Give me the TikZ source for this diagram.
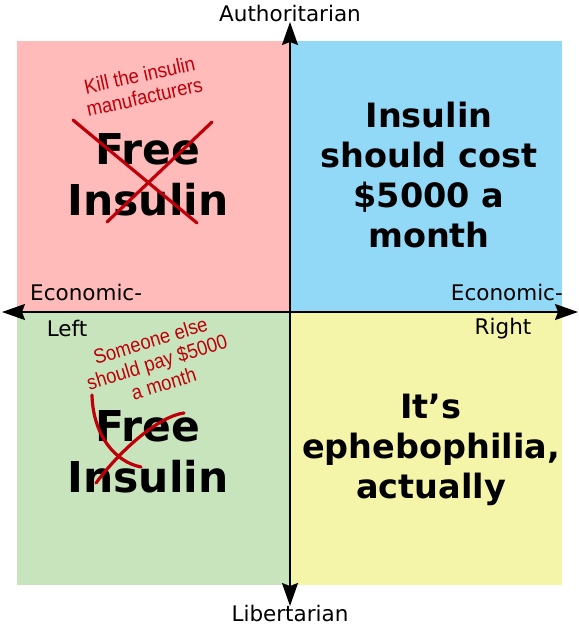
\documentclass[tikz,border=0pt]{standalone}
\usepackage{fontspec}
\setmainfont{DejaVu Sans}
\newfontfamily\annofont{Liberation Sans}
\usetikzlibrary{arrows.meta,positioning}
\definecolor{authleft}{RGB}{255,186,186}
\definecolor{authright}{RGB}{146,217,248}
\definecolor{libleft}{RGB}{200,228,188}
\definecolor{libright}{RGB}{245,245,169}
\definecolor{scribble}{RGB}{190,0,10}
\begin{document}
\begin{tikzpicture}[x=1pt,y=-1pt,>={Stealth[length=23pt,width=16pt,inset=3pt]},
    axis/.style={line width=1.6pt},
    axislabel/.style={inner sep=0pt,font=\fontsize{21.5}{25}\selectfont},
    bigtext/.style={align=center,font=\bfseries\fontsize{42.5}{51}\selectfont},
    midtext/.style={align=center,font=\bfseries\fontsize{33.5}{40}\selectfont},
    annotext/.style={align=center,inner sep=0pt,text=scribble,font=\annofont\fontsize{20.5}{22.5}\selectfont},
    cross/.style={draw=scribble,line width=3.2pt,line cap=round}]
    \useasboundingbox (0,0) rectangle (579,630);
    \fill[authleft] (17,41) rectangle (290,312);
    \fill[authright] (290,41) rectangle (562,312);
    \fill[libleft] (17,312) rectangle (290,585);
    \fill[libright] (290,312) rectangle (562,585);
    \coordinate (west) at (2,312);
    \coordinate (east) at (578,312);
    \coordinate (north) at (290,22);
    \coordinate (south) at (290,606);
    \draw[axis,<->] (west)--(east);
    \draw[axis,<->] (north)--(south);
    \node[axislabel] (auth) at (290,13) {Authoritarian};
    \node[axislabel] (lib) at (290,613) {Libertarian};
    \node[axislabel,anchor=west] (econl) at (30,292) {Economic-};
    \node[axislabel] (left) at (67,328) {Left};
    \node[axislabel,anchor=east] (econr) at (563,292) {Economic-};
    \node[axislabel] (right) at (503,329) {Right};
    \node[bigtext] (freetop) at (148,175) {Free\\Insulin};
    \node[bigtext] (freebot) at (148,452) {Free\\Insulin};
    \node[midtext] (cost) at (429,175) {Insulin\\should cost\\\$5000 a\\month};
    \node[midtext] (ephebo) at (431,450) {It’s\\ephebophilia,\\actually};
    \node[annotext,rotate=12.5,xscale=0.9] (kill) at (142,86) {Kill the insulin\\manufacturers};
    \node[annotext,rotate=17,xscale=0.9] (someone) at (157,362) {Someone else\\should pay \$5000\\a month};
    \draw[cross] (73,120)--(197,223);
    \draw[cross] (212,122)--(107,222);
    \draw[cross] (92,395) .. controls (93,435) and (115,462) .. (141,467);
    \draw[cross] (184,413) .. controls (160,416) and (122,448) .. (96,483);
  \end{tikzpicture}
\end{document}
